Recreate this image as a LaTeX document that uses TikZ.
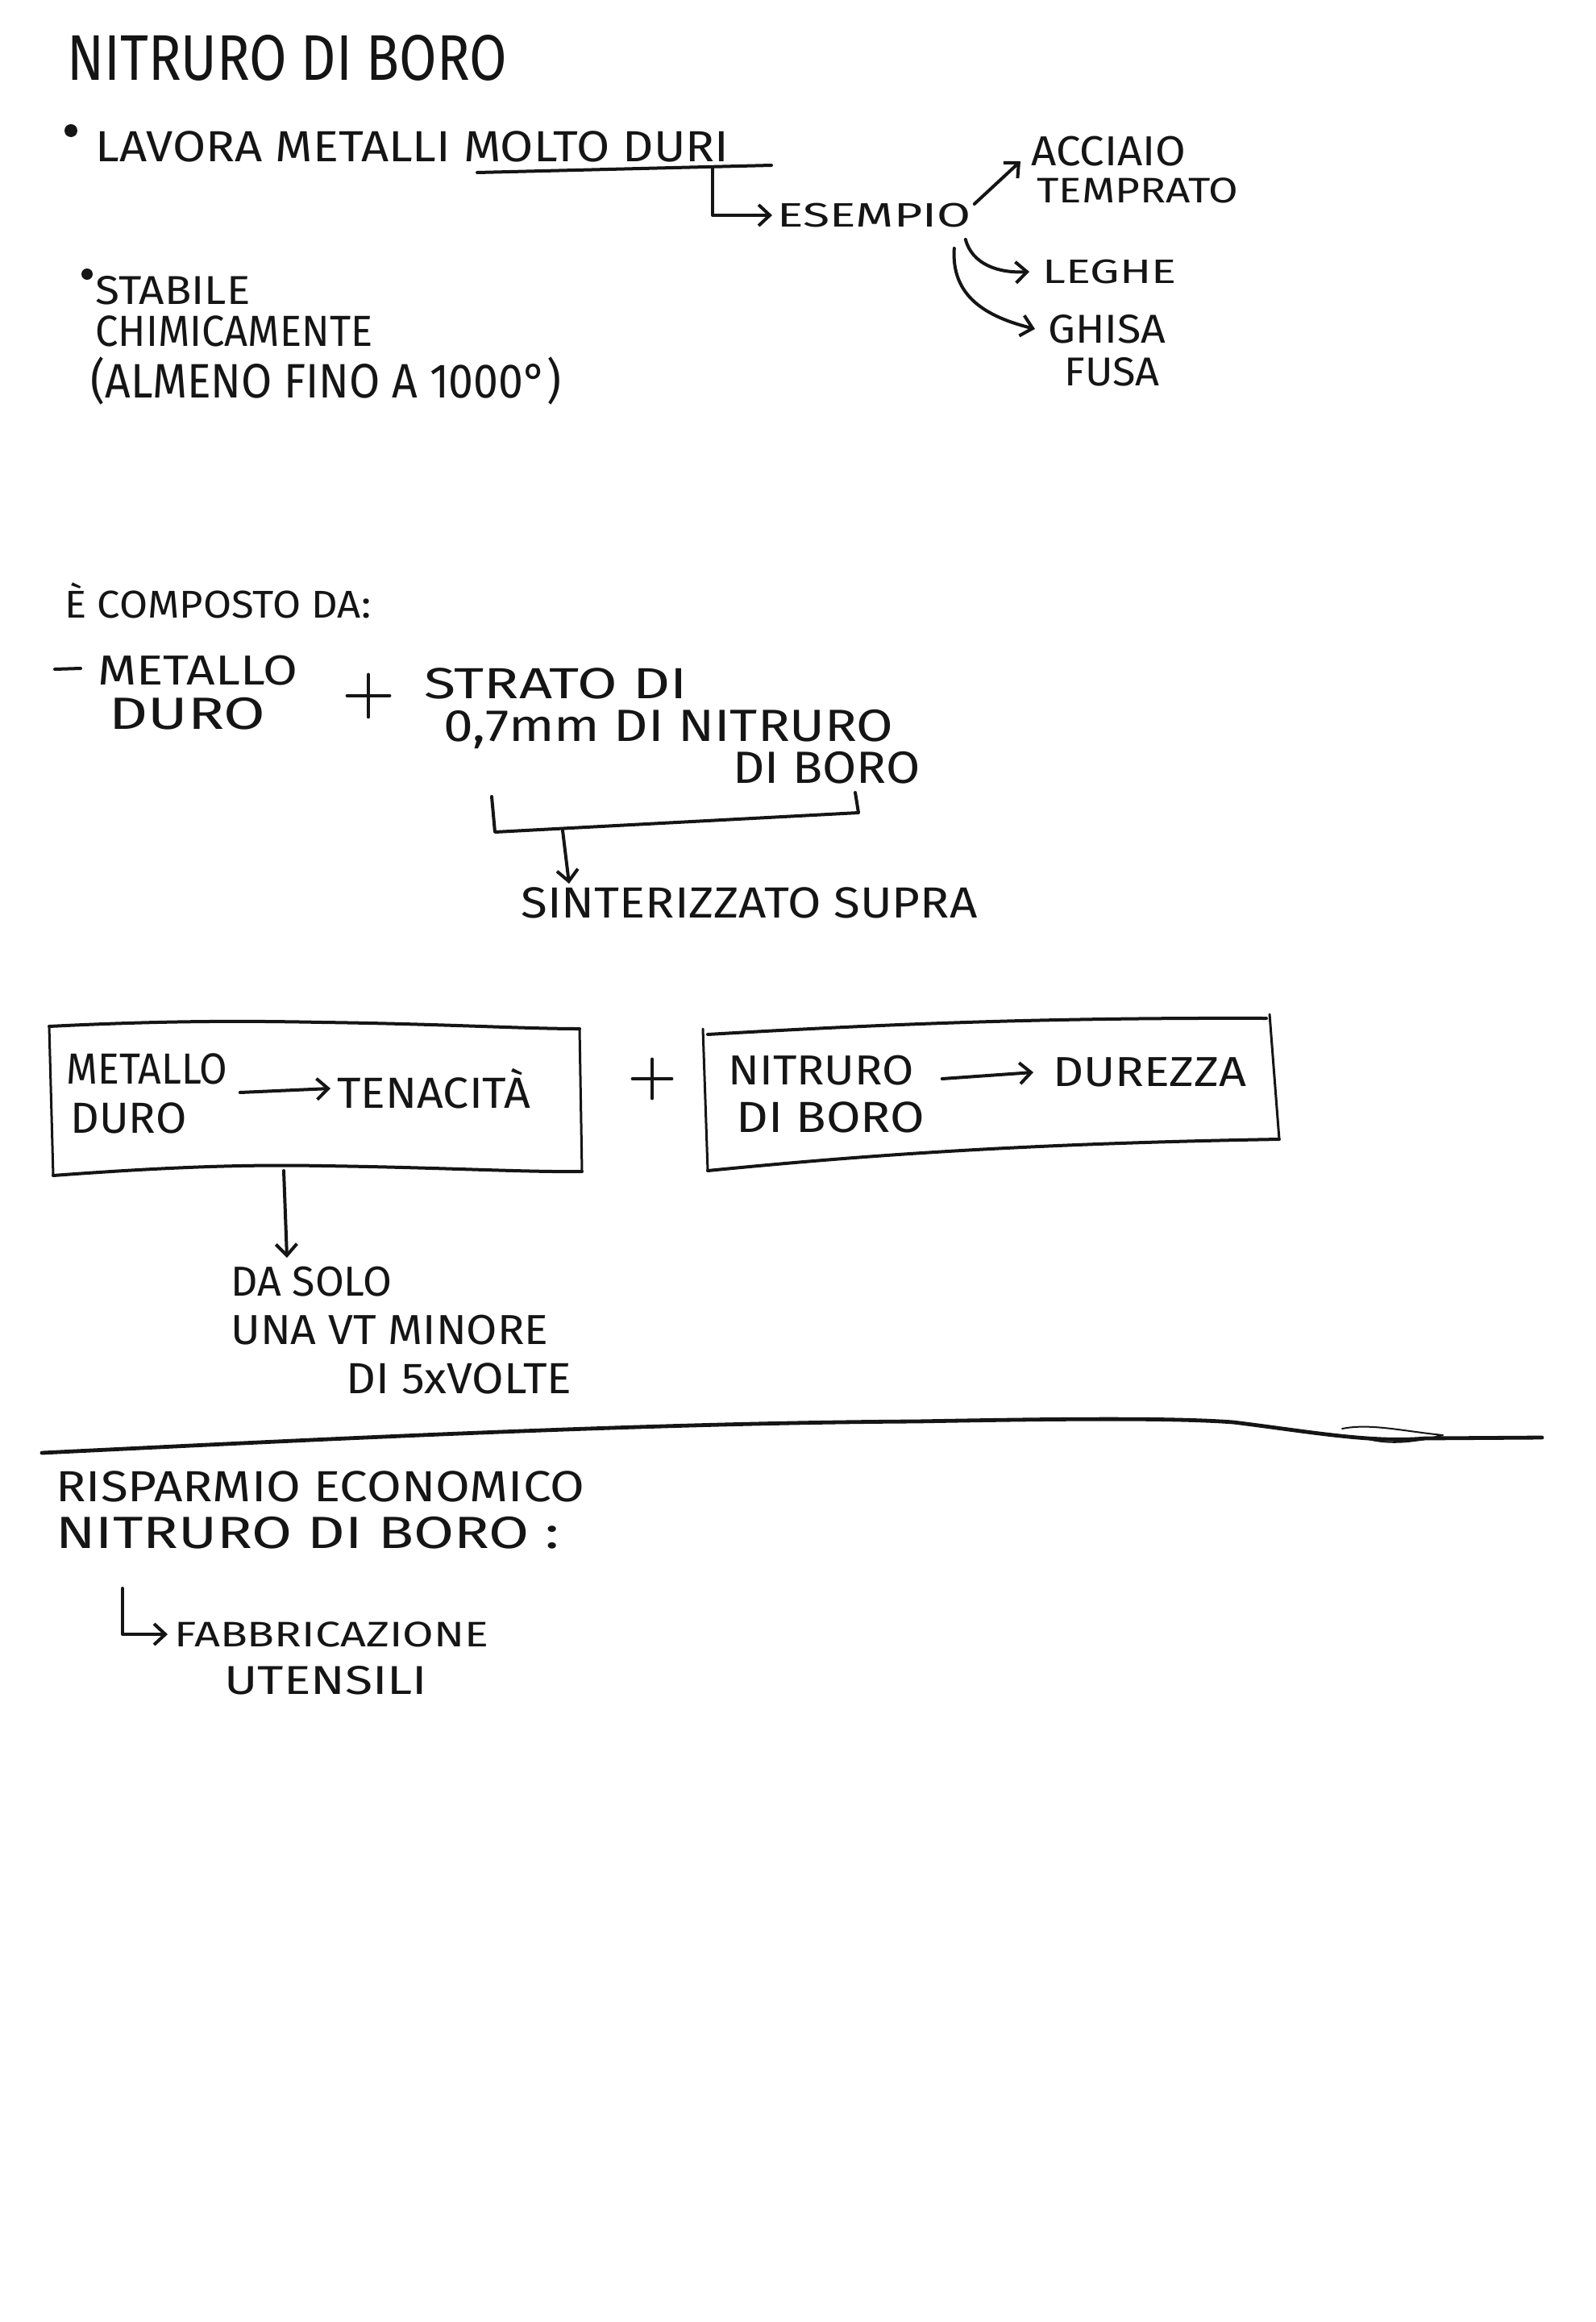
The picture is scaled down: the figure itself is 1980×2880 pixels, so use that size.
\documentclass[tikz,border=0pt]{standalone}
\usepackage{fontspec}
\setmainfont{Fira Sans}
\usetikzlibrary{arrows.meta}
\definecolor{ink}{HTML}{151515}
\newcommand{\fsz}[1]{\fontsize{#1pt}{#1pt}\selectfont}
\newcommand{\fitto}[2]{\resizebox{#1}{\height}{#2}}
\tikzset{
  txt/.style={anchor=west, inner sep=0pt, text=ink},
  ln/.style={draw=ink, line width=2pt, line cap=round, line join=round},
  thin/.style={draw=ink, line width=1.5pt, line cap=round, line join=round},
  arr/.style={ln, -{Straight Barb[length=7pt,width=13pt,line width=2pt]}},
  dot/.style={circle, fill=ink, inner sep=0pt, minimum size=8pt},
  plusbox/.style={inner sep=0pt, minimum size=26pt},
}
\begin{document}
\begin{tikzpicture}[x=0.5pt,y=-0.5pt]
\fill[white] (0,0) rectangle (1980,2880);
\useasboundingbox (0,0) rectangle (1980,2880);

% ---------- title ----------
\node[txt,font=\fsz{40}] (title) at (83,72) {\fitto{273pt}{NITRURO DI BORO}};

% ---------- bullet 1 ----------
\node[dot] (b1) at (88,162) {};
\node[txt,font=\fsz{27}] (lavora) at (118,182) {\fitto{393pt}{LAVORA METALLI MOLTO DURI}};
\coordinate (ul1) at (592,214);
\coordinate (ul2) at (957,205);
\draw[ln] (ul1) -- (ul2);
\coordinate (lstart) at (884,209);
\node[txt,font=\fsz{21}] (esempio) at (964,267) {\fitto{120pt}{ESEMPIO}};
\draw[arr] (lstart) |- ([xshift=-3]esempio.west);

\node[txt,font=\fsz{26}] (acciaio) at (1279,188) {\fitto{96pt}{ACCIAIO}};
\node[txt,font=\fsz{22}] (temprato) at (1286,236) {\fitto{125pt}{TEMPRATO}};
\draw[arr] ([shift={(4,-14)}]esempio.east) -- ([shift={(-13,12)}]acciaio.west);

\node[txt,font=\fsz{21}] (leghe) at (1293,337) {\fitto{83pt}{LEGHE}};
\draw[arr] ([shift={(-7,30)}]esempio.east) .. controls +(8,30) and +(-40,2) .. ([xshift=-8]leghe.west);

\node[txt,font=\fsz{25}] (ghisa) at (1300,408) {\fitto{73pt}{GHISA}};
\node[txt,font=\fsz{25}] (fusa) at (1320,461) {\fitto{59pt}{FUSA}};
\draw[arr] ([shift={(-21,41)}]esempio.east) .. controls +(-4,60) and +(-60,-15) .. ([xshift=-8]ghisa.west);

% ---------- bullet 2 ----------
\node[dot,minimum size=7pt] (b2) at (108,340) {};
\node[txt,font=\fsz{25}] (stabile) at (118,360) {\fitto{96pt}{STABILE}};
\node[txt,font=\fsz{27}] (chim) at (118,411) {\fitto{172pt}{CHIMICAMENTE}};
\node[txt,font=\fsz{30}] (almeno) at (112,472) {\fitto{292pt}{(ALMENO FINO A 1000°)}};

% ---------- composto ----------
\node[txt,font=\fsz{24}] (comp) at (80,745) {\fitto{190pt}{È COMPOSTO DA:}};
\coordinate (d1) at (68,830);
\coordinate (d2) at (100,829);
\draw[ln] (d1) -- (d2);
\node[txt,font=\fsz{26}] (metallo) at (121,832) {\fitto{124pt}{METALLO}};
\node[txt,font=\fsz{28}] (duro) at (135,885) {\fitto{97pt}{DURO}};
\node[plusbox] (plus1) at (457,863) {};
\draw[ln] (plus1.west) -- (plus1.east) (plus1.north) -- (plus1.south);
\node[txt,font=\fsz{27}] (strato) at (526,848) {\fitto{163pt}{STRATO DI}};
\node[txt,font=\fsz{28}] (mm) at (550,905) {\fitto{279pt}{0,7mm DI NITRURO}};
\node[txt,font=\fsz{28}] (diboro) at (909,952) {\fitto{116pt}{DI BORO}};
\coordinate (br1) at (610,988);
\coordinate (br2) at (614,1032);
\coordinate (br3) at (1065,1008);
\coordinate (br4) at (1061,983);
\draw[ln] (br1) -- (br2) -- (br3) -- (br4);
\coordinate (bra) at (698,1030);
\node[txt,font=\fsz{27}] (sint) at (646,1120) {\fitto{283pt}{SINTERIZZATO SUPRA}};
\draw[arr] (bra) -- ([shift={(60,-24)}]sint.west);

% ---------- boxes ----------
\coordinate (a1) at (61,1273);
\coordinate (a2) at (400,1268);
\coordinate (a3) at (719,1276);
\coordinate (a4) at (722,1453);
\coordinate (a5) at (400,1446);
\coordinate (a6) at (66,1458);
\draw[thin] (a1) -- (a6);
\draw[thin] (a3) -- (a4);
\draw[ln] (a1) .. controls (200,1266) and (300,1266) .. (a2) .. controls (550,1270) and (650,1276) .. (a3);
\draw[ln] (a6) .. controls (200,1448) and (300,1444) .. (a5) .. controls (550,1448) and (650,1454) .. (a4);
\node[txt,font=\fsz{27}] (metallo2) at (82,1326) {\fitto{100pt}{METALLO}};
\node[txt,font=\fsz{27}] (duro2) at (87,1387) {\fitto{72pt}{DURO}};
\node[txt,font=\fsz{27}] (tenac) at (418,1350) {\fitto{120pt}{TENACITÀ}};
\draw[arr] ([shift={(15,5)}]metallo2.east |- tenac.west) -- ([xshift=-4]tenac.west);
\node[plusbox,minimum size=24pt] (plus2) at (809,1338) {};
\draw[ln] (plus2.west) -- (plus2.east) (plus2.north) -- (plus2.south);

\coordinate (c1) at (878,1283);
\coordinate (c2) at (1571,1263);
\coordinate (c3) at (1587,1413);
\coordinate (c4) at (878,1452);
\coordinate (c5) at (1575,1258);
\coordinate (c6) at (872,1276);
\draw[thin] (c6) -- (c4);
\draw[thin] (c5) -- (c3);
\draw[ln] (c1) .. controls (1100,1270) and (1300,1262) .. (c2);
\draw[ln] (c4) .. controls (1100,1430) and (1300,1418) .. (c3);
\node[txt,font=\fsz{26}] (nitr) at (903,1328) {\fitto{115pt}{NITRURO}};
\node[txt,font=\fsz{27}] (diboro2) at (913,1386) {\fitto{117pt}{DI BORO}};
\node[txt,font=\fsz{26}] (durezza) at (1306,1330) {\fitto{120pt}{DUREZZA}};
\draw[arr] ([shift={(35,10)}]nitr.east) -- ([xshift=-12]durezza.west);

\coordinate (down1) at (352,1452);
\node[txt,font=\fsz{26}] (dasolo) at (286,1590) {\fitto{100pt}{DA SOLO}};
\node[txt,font=\fsz{26}] (unavt) at (286,1650) {\fitto{197pt}{UNA VT MINORE}};
\node[txt,font=\fsz{27}] (di5x) at (429,1710) {\fitto{140pt}{DI 5xVOLTE}};
\draw[arr] (down1) -- ([shift={(70,-30)}]dasolo.west);

% ---------- divider ----------
\coordinate (h1) at (52,1802);
\coordinate (h2) at (1136,1763);
\coordinate (h3) at (1530,1764);
\coordinate (h4) at (1768,1784);
\coordinate (h5) at (1913,1783);
\draw[ln,line width=2.4pt] (h1) .. controls (400,1785) and (800,1765) .. (h2) .. controls (1300,1760) and (1450,1758) .. (h3) .. controls (1620,1775) and (1700,1790) .. (h4) -- (h5);
\draw[thin,line width=1pt] (1665,1772) .. controls (1700,1765) and (1740,1775) .. (1790,1780) .. controls (1750,1790) and (1720,1792) .. (1690,1783);

% ---------- risparmio ----------
\node[txt,font=\fsz{27}] (risp) at (69,1844) {\fitto{328pt}{RISPARMIO ECONOMICO}};
\node[txt,font=\fsz{28}] (nitr3) at (69,1901) {\fitto{312pt}{NITRURO DI BORO :}};
\coordinate (lb) at (152,1970);
\node[txt,font=\fsz{22}] (fabb) at (216,2027) {\fitto{195pt}{FABBRICAZIONE}};
\node[txt,font=\fsz{25}] (uten) at (278,2084) {\fitto{126pt}{UTENSILI}};
\draw[arr] (lb) |- ([xshift=-4]fabb.west);
\end{tikzpicture}
\end{document}
